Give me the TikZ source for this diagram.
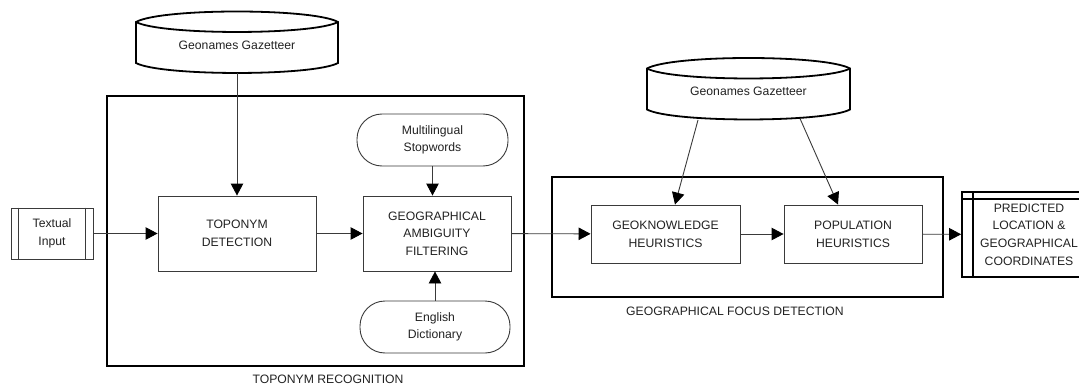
\documentclass[tikz,border=0pt]{standalone}
\usepackage{fontspec}
\setmainfont{Liberation Sans}
\usetikzlibrary{arrows.meta,calc}

\definecolor{inkgray}{HTML}{222222}
\definecolor{edgegray}{HTML}{3A3A3A}

\tikzset{
  txt/.style={font=\fontsize{12.2}{17.6}\selectfont, text=inkgray, align=center, inner sep=0pt},
  procbox/.style={txt, draw=edgegray, line width=0.9pt, fill=white},
  roundbox/.style={procbox, rounded corners=25pt},
  container/.style={draw=black, line width=2pt},
  storeline/.style={draw=black, line width=1.8pt, line join=miter},
  flow/.style={draw=edgegray, line width=0.9pt, -{Triangle[length=12pt,width=12.5pt,color=black]}},
  link/.style={draw=edgegray, line width=0.9pt},
}

% drum-like data store outline around a named text node (#2 = half width)
\newcommand\gazbody[2]{%
  \coordinate (#1-nw) at ($(#1.center)+(-#2,-23)$);
  \coordinate (#1-ne) at ($(#1.center)+(#2,-23)$);
  \coordinate (#1-sw) at ($(#1.center)+(-#2,18)$);
  \coordinate (#1-se) at ($(#1.center)+(#2,18)$);
  \draw[storeline] (#1-nw) .. controls +(25,-14) and +(-25,-14) .. (#1-ne)
    -- (#1-se) .. controls +(-25,13.3) and +(25,13.3) .. (#1-sw) -- cycle;
  \draw[storeline] (#1-nw) .. controls +(25,13.3) and +(-25,13.3) .. (#1-ne);
}

\begin{document}
\begin{tikzpicture}[x=1pt,y=-1pt]
\useasboundingbox (0,0) rectangle (1079,385);
\clip (0,0) rectangle (1079,385);

% group frames
\node[container, minimum width=417, minimum height=270] (toporec) at (315.5,231) {};
\node[txt] (toporeclabel) at (328,379) {TOPONYM RECOGNITION};
\node[container, minimum width=391, minimum height=120] (focus) at (747.5,237) {};
\node[txt] (focuslabel) at (735,311) {GEOGRAPHICAL FOCUS DETECTION};

% gazetteer stores
\node[txt] (gaz1) at (237,45) {Geonames Gazetteer};
\gazbody{gaz1}{101}
\coordinate (gaz1-b) at ($(gaz1.center)+(0,28)$);

\node[txt] (gaz2) at (748.5,91.5) {Geonames Gazetteer};
\gazbody{gaz2}{101.5}
\coordinate (gaz2-l) at (698,120);
\coordinate (gaz2-r) at (800,118.5);

% input
\node[procbox, minimum width=82, minimum height=51] (input) at (52,233.5) {Textual\\Input};
\draw[link] ([xshift=8pt]input.north west) -- ([xshift=8pt]input.south west);
\draw[link] ([xshift=-8pt]input.north east) -- ([xshift=-8pt]input.south east);

% toponym recognition
\node[procbox, minimum width=158, minimum height=75] (topo) at (237,233.5) {TOPONYM\\DETECTION};
\node[procbox, minimum width=148, minimum height=75] (gaf) at (437,233.5) {GEOGRAPHICAL\\AMBIGUITY\\FILTERING};
\node[roundbox, minimum width=151, minimum height=52] (stop) at (432.5,140) {Multilingual\\Stopwords};
\node[roundbox, minimum width=150, minimum height=52] (dict) at (435,327) {English\\Dictionary};

% focus detection
\node[procbox, minimum width=149, minimum height=58] (geok) at (665.5,234) {GEOKNOWLEDGE\\HEURISTICS};
\node[procbox, minimum width=138, minimum height=58] (pop) at (853,234) {POPULATION\\HEURISTICS};

% output store
\node[txt, draw=black, line width=1.8pt, minimum width=134, minimum height=85] (out) at (1029,234.5)
  {PREDICTED\\LOCATION \&\\GEOGRAPHICAL\\COORDINATES};
\draw[storeline] ([xshift=12pt]out.north west) -- ([xshift=12pt]out.south west);
\draw[storeline] ([yshift=-8pt]out.north west) -- ([yshift=-8pt]out.north east);

% connectors
\draw[flow] (gaz1-b) -- (topo);
\draw[flow] (input) -- (topo);
\draw[flow] (topo) -- (gaf);
\draw[flow] (stop) -- (stop |- gaf.north);
\draw[flow] (dict) -- (dict |- gaf.south);
\draw[flow] (gaf) -- (geok);
\draw[flow] (geok) -- (pop);
\draw[flow] (pop) -- (out);
\draw[flow] (gaz2-l) -- ($(geok.north)+(9.5,0)$);
\draw[flow] (gaz2-r) -- ($(pop.north)+(-15,0)$);
\end{tikzpicture}
\end{document}
